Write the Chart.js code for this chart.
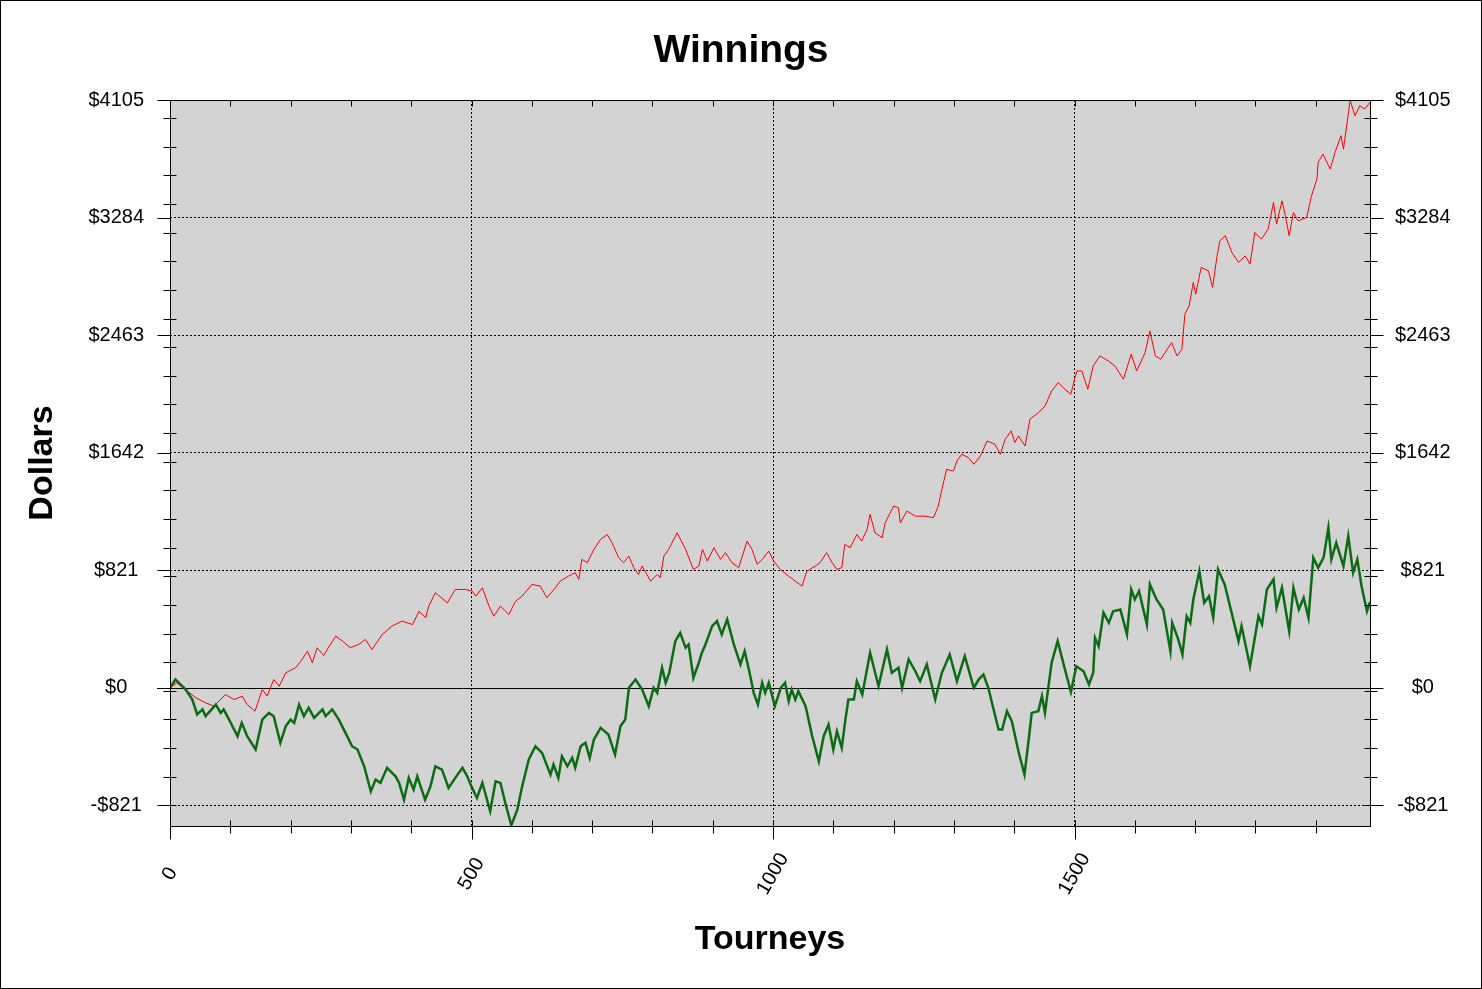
<!DOCTYPE html>
<html>
<head>
<meta charset="utf-8">
<title>Winnings</title>
<script src="https://cdn.jsdelivr.net/npm/chart.js@4.4.1/dist/chart.umd.min.js"></script>
<style>
  html, body { margin: 0; padding: 0; background: #fff; }
  canvas { display: block; }
</style>
</head>
<body>
<canvas id="winningsChart" width="1482" height="989"></canvas>
<script>
// axis ticks
const xMajor = [0, 500, 1000, 1500];
const yMajor = [-821, 0, 821, 1642, 2463, 3284, 4105];

// green line
const greenTourneys = [0, 9, 26, 37, 45, 54, 59, 76, 84, 89, 98, 112, 119, 128, 142, 153, 164, 172, 183, 192,
  200, 206, 214, 222, 230, 239, 253, 258, 269, 280, 291, 302, 311, 322, 333, 341, 349, 360, 374, 380,
  388, 396, 404, 410, 423, 432, 440, 451, 462, 473, 485, 493, 500, 509, 518, 531, 540, 548, 556, 566,
  576, 584, 595, 606, 617, 631, 636, 644, 650, 659, 667, 672, 681, 689, 696, 703, 714, 727, 738, 747,
  755, 761, 772, 783, 794, 802, 808, 816, 822, 828, 838, 846, 855, 860, 868, 877, 882, 888, 899, 907,
  915, 924, 935, 946, 953, 960, 968, 975, 982, 987, 993, 1003, 1013, 1020, 1026, 1031, 1037, 1042, 1054, 1065,
  1076, 1084, 1092, 1100, 1106, 1114, 1120, 1125, 1134, 1139, 1148, 1161, 1175, 1189, 1197, 1208, 1214, 1225, 1236, 1244,
  1255, 1269, 1280, 1293, 1305, 1318, 1333, 1341, 1349, 1357, 1374, 1380, 1388, 1396, 1407, 1417, 1424, 1429, 1440, 1446,
  1451, 1462, 1472, 1482, 1494, 1503, 1515, 1524, 1531, 1534, 1540, 1548, 1557, 1564, 1576, 1587, 1594, 1600, 1607, 1620,
  1625, 1636, 1647, 1659, 1662, 1672, 1679, 1686, 1692, 1697, 1707, 1715, 1723, 1730, 1738, 1749, 1772, 1777, 1791, 1805,
  1811, 1819, 1830, 1835, 1844, 1856, 1863, 1872, 1880, 1888, 1896, 1904, 1913, 1921, 1926, 1934, 1946, 1954, 1962, 1969,
  1976, 1985, 1990];
const greenDollars = [0, 58, -12, -82, -186, -151, -198, -117, -175, -151, -222, -338, -245, -338, -431, -222, -175, -198, -384, -268,
  -222, -245, -117, -198, -140, -210, -151, -198, -151, -222, -315, -408, -431, -548, -723, -641, -664, -559, -618, -664,
  -781, -629, -711, -618, -781, -688, -548, -571, -699, -629, -559, -618, -690, -769, -664, -862, -653, -664, -804, -960,
  -851, -688, -501, -408, -454, -606, -536, -629, -478, -548, -489, -559, -408, -384, -489, -361, -280, -326, -466, -268,
  -222, 0, 58, -12, -128, 0, -35, 140, 35, 105, 326, 384, 280, 303, 70, 175, 245, 303, 431, 466,
  373, 477, 303, 163, 256, 128, -35, -117, 35, -35, 35, -128, 0, 35, -93, -12, -82, -23, -128, -338,
  -513, -338, -257, -431, -303, -419, -222, -82, -82, 46, -47, 245, 11, 268, 105, 140, 0, 198, 116, 46,
  163, -82, 105, 233, 46, 221, 0, 58, 93, 0, -291, -291, -163, -233, -443, -606, -361, -175, -163, -58,
  -175, 175, 326, 163, -30, 150, 116, 23, 105, 349, 291, 524, 454, 535, 547, 373, 687, 617, 675, 442,
  722, 617, 547, 256, 454, 338, 233, 500, 454, 617, 815, 594, 640, 489, 827, 722, 326, 431, 151, 500,
  442, 687, 757, 559, 699, 396, 699, 547, 629, 489, 909, 839, 909, 1118, 897, 1013, 850, 1060, 804, 897,
  710, 535, 600];

// red line
const redTourneys = [0, 11, 29, 43, 59, 73, 92, 106, 120, 128, 141, 153, 161, 172, 181, 192, 208, 217, 228, 236,
  244, 255, 264, 275, 286, 299, 313, 324, 335, 352, 368, 385, 402, 413, 424, 429, 440, 460, 473, 490,
  501, 507, 518, 529, 537, 548, 562, 573, 584, 600, 614, 625, 639, 647, 661, 672, 678, 683, 692, 703,
  714, 725, 733, 744, 752, 761, 769, 777, 783, 797, 808, 813, 819, 827, 841, 855, 868, 877, 883, 891,
  902, 913, 921, 932, 943, 957, 965, 974, 982, 993, 1001, 1012, 1026, 1037, 1048, 1056, 1070, 1078, 1089, 1098,
  1106, 1114, 1119, 1128, 1139, 1147, 1156, 1161, 1169, 1181, 1186, 1200, 1208, 1211, 1222, 1236, 1252, 1266, 1274, 1280,
  1288, 1299, 1305, 1313, 1324, 1333, 1344, 1355, 1368, 1377, 1385, 1395, 1401, 1407, 1418, 1426, 1440, 1451, 1462, 1473,
  1484, 1494, 1500, 1504, 1512, 1522, 1531, 1542, 1556, 1567, 1581, 1594, 1603, 1617, 1625, 1634, 1643, 1661, 1670, 1678,
  1683, 1690, 1697, 1701, 1710, 1722, 1729, 1736, 1741, 1750, 1761, 1772, 1783, 1791, 1799, 1810, 1821, 1830, 1835, 1844,
  1849, 1856, 1863, 1871, 1885, 1893, 1902, 1904, 1912, 1924, 1932, 1942, 1946, 1954, 1957, 1965, 1973, 1981, 1990];
const redDollars = [0, 35, -23, -70, -105, -128, -47, -82, -58, -117, -163, -12, -58, 58, 11, 105, 140, 186, 256, 175,
  280, 226, 291, 361, 326, 280, 303, 338, 268, 373, 431, 466, 442, 535, 489, 571, 664, 594, 687, 687,
  675, 640, 699, 571, 500, 571, 512, 605, 640, 722, 710, 629, 699, 745, 780, 804, 757, 897, 874, 967,
  1037, 1071, 1013, 909, 874, 920, 839, 792, 850, 745, 792, 769, 920, 967, 1083, 967, 827, 850, 967, 885,
  979, 897, 944, 874, 839, 1025, 967, 862, 897, 955, 885, 827, 780, 745, 710, 815, 850, 874, 944, 874,
  827, 839, 1002, 979, 1071, 1025, 1106, 1211, 1083, 1048, 1153, 1269, 1258, 1153, 1234, 1199, 1199, 1188, 1269, 1386,
  1526, 1514, 1584, 1631, 1608, 1561, 1619, 1724, 1701, 1631, 1736, 1794, 1713, 1759, 1689, 1875, 1922, 1968, 2073, 2132,
  2085, 2050, 2155, 2213, 2213, 2085, 2248, 2318, 2283, 2248, 2155, 2330, 2213, 2341, 2492, 2318, 2295, 2411, 2318, 2364,
  2609, 2667, 2831, 2749, 2936, 2912, 2796, 3006, 3122, 3157, 3040, 2971, 3017, 2959, 3180, 3133, 3203, 3390, 3238, 3401,
  3308, 3157, 3320, 3261, 3285, 3436, 3553, 3670, 3728, 3623, 3739, 3856, 3762, 4007, 4105, 3995, 4065, 4042, 4089];

const FONT = '"Liberation Sans", Arial, sans-serif';
const CLEAR = 'rgba(0,0,0,0)';
const al = v => Math.round(v) + 0.5;

const money = v => (v < 0 ? '-$' + (-v) : '$' + v);

// background, plot frame, tick marks, zero line, x labels
const framePlugin = {
  id: 'frame',
  beforeDraw(chart) {
    const { ctx, chartArea: a, width, height } = chart;
    ctx.save();
    ctx.fillStyle = '#fff';
    ctx.fillRect(0, 0, width, height);
    ctx.fillStyle = '#d3d3d3';
    ctx.fillRect(a.left, a.top, a.right - a.left, a.bottom - a.top);
    ctx.strokeStyle = '#000';
    ctx.lineWidth = 1;
    ctx.strokeRect(0.5, 0.5, width - 1, height - 1);
    ctx.restore();
  },
  beforeDatasetsDraw(chart) {
    const { ctx, chartArea: a } = chart;
    const y0 = al(chart.scales.y.getPixelForValue(0));
    ctx.save();
    ctx.strokeStyle = '#000';
    ctx.lineWidth = 1;
    ctx.beginPath();
    ctx.moveTo(a.left - 13, y0);
    ctx.lineTo(a.right + 13, y0);
    ctx.stroke();
    ctx.restore();
  },
  afterDraw(chart) {
    const { ctx, chartArea: a } = chart;
    const xs = chart.scales.x, ys = chart.scales.y;
    const L = al(a.left), R = al(a.right), T = al(a.top), B = al(a.bottom);
    ctx.save();
    ctx.strokeStyle = '#000';
    ctx.lineWidth = 1;
    ctx.strokeRect(L, T, R - L, B - T);
    ctx.beginPath();
    // tourney ticks every 100
    for (let t = 0; t <= xs.max; t += 100) {
      const px = al(xs.getPixelForValue(t));
      ctx.moveTo(px, T); ctx.lineTo(px, T + 6);
      ctx.moveTo(px, B - 6); ctx.lineTo(px, B + (xMajor.includes(t) ? 13 : 7));
    }
    // dollar minor ticks every 200
    for (let v = yMajor[0]; v <= ys.max; v += 200) {
      const py = al(ys.getPixelForValue(v));
      ctx.moveTo(L - 7, py); ctx.lineTo(L + 6, py);
      ctx.moveTo(R - 6, py); ctx.lineTo(R + 7, py);
    }
    yMajor.forEach(v => {
      const py = al(ys.getPixelForValue(v));
      ctx.moveTo(L - 13, py); ctx.lineTo(L, py);
      ctx.moveTo(R, py); ctx.lineTo(R + 13, py);
    });
    ctx.stroke();

    // rotated tourney labels
    ctx.fillStyle = '#000';
    ctx.font = '20px ' + FONT;
    ctx.textAlign = 'center';
    ctx.textBaseline = 'middle';
    xMajor.forEach(v => {
      ctx.save();
      ctx.translate(xs.getPixelForValue(v), a.bottom + 48);
      ctx.rotate(-60 * Math.PI / 180);
      ctx.fillText(String(v), 0, 0);
      ctx.restore();
    });
    ctx.restore();
  }
};

const yTicks = {
  color: '#000',
  font: { family: FONT, size: 20 },
  crossAlign: 'center',
  autoSkip: false,
  callback: v => money(v)
};

new Chart(document.getElementById('winningsChart'), {
  type: 'line',
  data: {
    datasets: [
      {
        label: 'Green',
        data: greenTourneys.map((t, i) => ({ x: t, y: greenDollars[i] })),
        borderColor: '#0d6b14',
        borderWidth: 2.5,
        pointRadius: 0,
        tension: 0,
        order: 1
      },
      {
        label: 'Red',
        data: redTourneys.map((t, i) => ({ x: t, y: redDollars[i] })),
        borderColor: '#ff0000',
        borderWidth: 1,
        pointRadius: 0,
        tension: 0,
        order: 2
      }
    ]
  },
  options: {
    responsive: false,
    animation: false,
    devicePixelRatio: 1,
    layout: { padding: 0 },
    plugins: {
      legend: { display: false },
      tooltip: { enabled: false },
      title: {
        display: true,
        text: 'Winnings',
        color: '#000',
        font: { family: FONT, size: 39, weight: 'bold', lineHeight: 1.2 },
        padding: { top: 27.6, bottom: 25.6 }
      }
    },
    scales: {
      x: {
        type: 'linear',
        position: 'bottom',
        min: 0,
        max: 1990,
        afterBuildTicks: s => { s.ticks = xMajor.map(v => ({ value: v })); },
        afterFit: s => { s.height = 163; },
        ticks: { display: false },
        grid: {
          drawTicks: false,
          lineWidth: 1,
          color: c => (c.tick && c.tick.value > 0 ? '#000' : CLEAR)
        },
        border: { display: false, dash: [2, 2] },
        title: {
          display: true,
          text: 'Tourneys',
          color: '#000',
          font: { family: FONT, size: 34, weight: 'bold', lineHeight: 1.2 },
          padding: { top: 0, bottom: 29 }
        }
      },
      y: {
        type: 'linear',
        position: 'left',
        min: -965,
        max: 4105,
        afterBuildTicks: s => { s.ticks = yMajor.map(v => ({ value: v })); },
        afterFit: s => { s.width = 170; },
        ticks: Object.assign({ padding: 26 }, yTicks),
        grid: {
          drawTicks: false,
          lineWidth: 1,
          color: c => (c.tick && c.tick.value !== 0 && c.tick.value < 4105 ? '#000' : CLEAR)
        },
        border: { display: false, dash: [2, 2] },
        title: {
          display: true,
          text: 'Dollars',
          color: '#000',
          font: { family: FONT, size: 34, weight: 'bold', lineHeight: 1.2 },
          padding: { top: 22, bottom: 0 }
        }
      },
      y2: {
        type: 'linear',
        position: 'right',
        min: -965,
        max: 4105,
        afterBuildTicks: s => { s.ticks = yMajor.map(v => ({ value: v })); },
        afterFit: s => { s.width = 112; },
        ticks: Object.assign({ padding: 25 }, yTicks),
        grid: { display: false, drawTicks: false },
        border: { display: false }
      }
    }
  },
  plugins: [framePlugin]
});
</script>
</body>
</html>
